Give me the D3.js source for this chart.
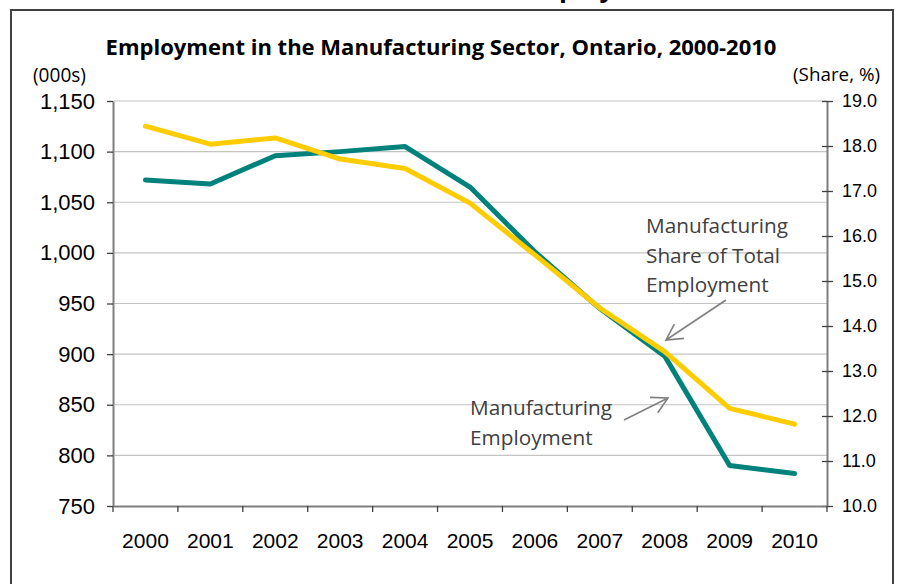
<!DOCTYPE html>
<html>
<head>
<meta charset="utf-8">
<script src="https://cdn.jsdelivr.net/npm/d3@7"></script>
<style>
  html, body { margin: 0; padding: 0; background: #fff; }
  svg { display: block; }
</style>
</head>
<body>
<script>
// Ontario manufacturing: employment (thousands) and share of total employment (%)
const years = ["2000","2001","2002","2003","2004","2005","2006","2007","2008","2009","2010"];
const employment = [1072, 1068, 1096, 1100, 1105, 1065, 1001, 945, 898, 790, 782];
const share = [18.44, 18.04, 18.18, 17.71, 17.50, 16.73, 15.58, 14.40, 13.43, 12.17, 11.82];
const leftTicks = [750, 800, 850, 900, 950, 1000, 1050, 1100, 1150];
const rightTicks = [10, 11, 12, 13, 14, 15, 16, 17, 18, 19];

const W = 899, H = 584;
const plot = { left: 113, right: 827, top: 101, bottom: 506 };
const teal = "#00827c", gold = "#ffcc00";
const labelFont = "'Liberation Sans', Arial, sans-serif";
const textFont = "'Open Sans', 'Noto Sans', sans-serif";

const svg = d3.select("body").append("svg").attr("width", W).attr("height", H);

// scale a text element's font so its rendered width equals the wanted width
function fitWidth(sel, wanted) {
  const size = parseFloat(sel.attr("font-size"));
  const w = sel.node().getComputedTextLength();
  if (w > 0) sel.attr("font-size", (size * wanted / w).toFixed(2));
  return sel;
}

// heading of the page above the chart box, only its lower edge shows
svg.append("text")
  .attr("x", 519).attr("y", -3)
  .attr("font-family", textFont).attr("font-weight", 700).attr("font-size", 26)
  .attr("fill", "#000")
  .text("Employment");

// chart frame
svg.append("rect")
  .attr("x", 11).attr("y", 10).attr("width", 882).attr("height", 620)
  .attr("fill", "none").attr("stroke", "#404040").attr("stroke-width", 2);

const x = d3.scaleBand().domain(years).range([plot.left, plot.right]).padding(0);
const yL = d3.scaleLinear().domain([750, 1150]).range([plot.bottom, plot.top]);
const yR = d3.scaleLinear().domain([10, 19]).range([plot.bottom, plot.top]);

// title
const title = svg.append("text")
  .attr("x", 441).attr("y", 55).attr("text-anchor", "middle")
  .attr("font-family", textFont).attr("font-weight", 700).attr("font-size", 18)
  .attr("fill", "#000")
  .text("Employment in the Manufacturing Sector, Ontario, 2000-2010");
fitWidth(title, 671);

// unit labels
const unitL = svg.append("text")
  .attr("x", 33).attr("y", 82)
  .attr("font-family", textFont).attr("font-size", 16).attr("fill", "#000")
  .text("(000s)");
fitWidth(unitL, 53);
const unitR = svg.append("text")
  .attr("x", 880).attr("y", 81).attr("text-anchor", "end")
  .attr("font-family", textFont).attr("font-size", 16).attr("fill", "#000")
  .text("(Share, %)");
fitWidth(unitR, 87);

// horizontal gridlines on the left-axis ticks
svg.append("g")
  .selectAll("line")
  .data(leftTicks.slice(1))
  .join("line")
  .attr("x1", plot.left).attr("x2", plot.right)
  .attr("y1", d => yL(d)).attr("y2", d => yL(d))
  .attr("stroke", "#c4c4c4").attr("stroke-width", 1.2);

// left axis
const gL = svg.append("g")
  .attr("transform", `translate(${plot.left},0)`)
  .call(d3.axisLeft(yL).tickValues(leftTicks).tickFormat(d3.format(","))
    .tickSize(6).tickSizeOuter(0).tickPadding(12));
gL.select(".domain").attr("stroke", "#7f7f7f").attr("stroke-width", 2);
gL.selectAll(".tick line").attr("stroke", "#404040").attr("stroke-width", 1.3);
gL.selectAll(".tick text")
  .attr("font-family", labelFont).attr("font-size", 22).attr("fill", "#000");

// right axis
const gR = svg.append("g")
  .attr("transform", `translate(${plot.right},0)`)
  .call(d3.axisRight(yR).tickValues(rightTicks).tickFormat(d3.format(".1f"))
    .tickSize(6).tickSizeOuter(0).tickPadding(9));
gR.select(".domain").attr("stroke", "#7f7f7f").attr("stroke-width", 2);
gR.selectAll(".tick line").attr("x1", -5).attr("stroke", "#404040").attr("stroke-width", 1.3);
gR.selectAll(".tick text")
  .attr("font-family", labelFont).attr("font-size", 18).attr("fill", "#000");

// bottom axis: labels centred in each band, ticks on the band edges
const gB = svg.append("g")
  .attr("transform", `translate(0,${plot.bottom})`)
  .call(d3.axisBottom(x).tickSize(0).tickSizeOuter(0).tickPadding(27));
gB.select(".domain").attr("stroke", "#7f7f7f").attr("stroke-width", 2);
gB.selectAll(".tick text")
  .attr("font-family", labelFont).attr("font-size", 21).attr("fill", "#000");
gB.selectAll("line.edge")
  .data(years.map(d => x(d)).concat([x.range()[1]]))
  .join("line").attr("class", "edge")
  .attr("x1", d => d).attr("x2", d => d)
  .attr("y1", 0).attr("y2", 6)
  .attr("stroke", "#404040").attr("stroke-width", 1.3);

// series lines
const cx = d => x(d) + x.bandwidth() / 2;
const lineEmp = d3.line().x((d, i) => cx(years[i])).y(d => yL(d));
const lineShare = d3.line().x((d, i) => cx(years[i])).y(d => yR(d));

svg.append("path").datum(employment)
  .attr("d", lineEmp)
  .attr("fill", "none").attr("stroke", teal).attr("stroke-width", 5)
  .attr("stroke-linecap", "round").attr("stroke-linejoin", "round");
svg.append("path").datum(share)
  .attr("d", lineShare)
  .attr("fill", "none").attr("stroke", gold).attr("stroke-width", 5)
  .attr("stroke-linecap", "round").attr("stroke-linejoin", "round");

// callouts
function callout(lines, tx, ty, from, to) {
  const t = svg.append("text")
    .attr("x", tx).attr("y", ty)
    .attr("font-family", textFont).attr("font-size", 19).attr("fill", "#404040");
  lines.forEach((s, i) => {
    t.append("tspan").attr("x", tx).attr("dy", i === 0 ? 0 : 29.5).text(s);
  });
  const first = t.select("tspan");
  const w = first.node().getComputedTextLength();
  t.attr("font-size", (19 * 142 / w).toFixed(2));

  const ang = Math.atan2(to[1] - from[1], to[0] - from[0]);
  const len = 18, spread = 0.5;
  const b1 = [to[0] - len * Math.cos(ang - spread), to[1] - len * Math.sin(ang - spread)];
  const b2 = [to[0] - len * Math.cos(ang + spread), to[1] - len * Math.sin(ang + spread)];
  const p = d3.path();
  p.moveTo(from[0], from[1]); p.lineTo(to[0], to[1]);
  p.moveTo(b1[0], b1[1]); p.lineTo(to[0], to[1]); p.lineTo(b2[0], b2[1]);
  svg.append("path").attr("d", p.toString())
    .attr("fill", "none").attr("stroke", "#808080").attr("stroke-width", 1.6);
}

callout(["Manufacturing", "Share of Total", "Employment"], 646, 233, [726, 300], [666, 340]);
callout(["Manufacturing", "Employment"], 470, 415, [624, 420], [668, 398]);
</script>
</body>
</html>
